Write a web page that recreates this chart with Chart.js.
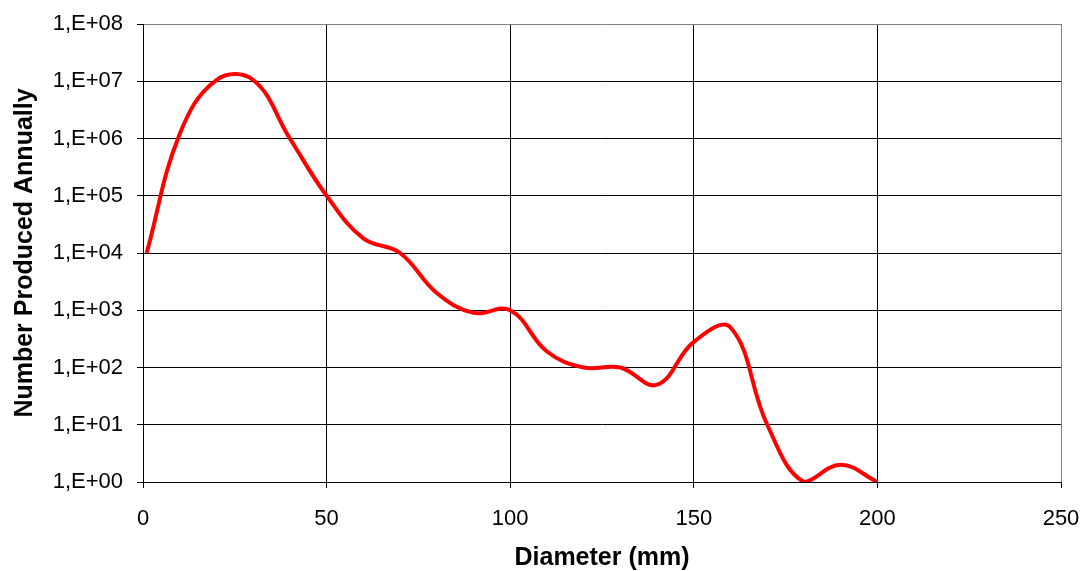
<!DOCTYPE html>
<html>
<head>
<meta charset="utf-8">
<script src="https://cdn.jsdelivr.net/npm/chart.js@4/dist/chart.umd.min.js"></script>
<style>
    html, body { margin: 0; padding: 0; background: #fff; }
    #wrap { width: 1086px; height: 571px; position: relative; }
</style>
</head>
<body>
<div id="wrap"><canvas id="sizeChart"></canvas></div>
<script>
// Values
const diameters = [1, 10, 20, 30, 40, 50, 60, 70, 80, 90, 100, 110, 120, 130, 140, 150, 160, 170, 180, 190, 200];
const counts = [1e4, 1.2e6, 1.05e7, 1.05e7, 1e6, 1e5, 1.8e4, 1e4, 2e3, 9e2, 1e3, 1.9e2, 1e2, 1e2, 50, 2.8e2, 5e2, 10, 1, 2, 1];
const yTicks = [1, 1e1, 1e2, 1e3, 1e4, 1e5, 1e6, 1e7, 1e8];

const fontFamily = '"Liberation Sans", Arial, sans-serif';

const points = diameters.map((d, i) => ({ x: d, y: counts[i] }));

const ctx = document.getElementById('sizeChart').getContext('2d');

new Chart(ctx, {
    type: 'line',
    data: {
        datasets: [{
            data: points,
            borderColor: '#ff0000',
            borderWidth: 4,
            pointRadius: 0,
            fill: false,
            tension: 0.4
        }]
    },
    options: {
        responsive: true,
        maintainAspectRatio: false,
        animation: false,
        layout: {
            padding: { top: 24, right: 25, bottom: 0, left: 0 }
        },
        plugins: {
            legend: { display: false },
            tooltip: { enabled: false }
        },
        scales: {
            x: {
                type: 'linear',
                min: 0,
                max: 250,
                ticks: {
                    stepSize: 50,
                    color: '#000',
                    padding: 18,
                    maxRotation: 0,
                    font: { family: fontFamily, size: 22 }
                },
                grid: {
                    color: (c) => (c.tick && c.tick.value === 250) ? '#808080' : '#000',
                    tickColor: '#000',
                    tickLength: 6,
                    lineWidth: 1
                },
                border: { color: '#000', width: 1 },
                title: {
                    display: true,
                    text: 'Diameter (mm)',
                    color: '#000',
                    padding: { top: 0, bottom: -2 },
                    font: { family: fontFamily, size: 25, weight: 'bold' }
                },
                afterFit: (scale) => {
                    scale.height = 89;
                    scale.paddingRight = 0;
                }
            },
            y: {
                type: 'logarithmic',
                min: 1,
                max: 1e8,
                afterBuildTicks: (scale) => {
                    scale.ticks = yTicks.map(v => ({ value: v }));
                },
                ticks: {
                    color: '#000',
                    padding: 14,
                    font: { family: fontFamily, size: 22 },
                    callback: (v) => {
                        const e = Math.round(Math.log10(v));
                        return '1,E+' + String(e).padStart(2, '0');
                    }
                },
                grid: {
                    color: (c) => (c.tick && c.tick.value === 1e8) ? '#808080' : '#000',
                    tickColor: '#000',
                    tickLength: 6,
                    lineWidth: 1
                },
                border: { color: '#000', width: 1 },
                title: {
                    display: true,
                    text: 'Number Produced Annually',
                    color: '#000',
                    padding: { top: 10, bottom: 0 },
                    font: { family: fontFamily, size: 25, weight: 'bold' }
                },
                afterFit: (scale) => {
                    scale.width = 143;
                    scale.paddingTop = 0;
                    scale.paddingBottom = 0;
                }
            }
        }
    }
});
</script>
</body>
</html>
